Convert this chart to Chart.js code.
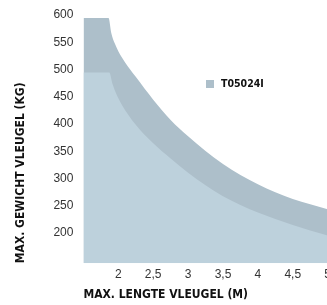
<!DOCTYPE html>
<html>
<head>
<meta charset="utf-8">
<script src="https://cdn.jsdelivr.net/npm/chart.js@4/dist/chart.umd.min.js"></script>
<style>
  html, body { margin: 0; padding: 0; background: #fff; overflow: hidden; }
  #wrap { position: relative; width: 327px; height: 305px; overflow: hidden; }
  #legend { position: absolute; left: 206px; top: 77px; font: bold 10.5px "DejaVu Sans Condensed", sans-serif; color: #111; }
  #legend span.box { display: inline-block; width: 8px; height: 8px; margin-right: 7px; vertical-align: -1px; }
</style>
</head>
<body>
<div id="wrap">
  <canvas id="chart" width="335" height="305"></canvas>
  <div id="legend"></div>
</div>
<script>
// lengte vleugel (m) and gewicht (kg)
const upperX = [1.5, 1.86, 1.9, 1.95, 2.0, 2.1, 2.25, 2.5, 2.75, 3.0, 3.25, 3.5, 3.75, 4.0, 4.25, 4.5, 4.75, 5.0];
const upperY = [600, 600, 572, 553, 539, 518, 492, 450, 413, 383, 356, 332, 312, 295, 280, 268, 258, 249];
const lowerX = [1.5, 1.87, 1.92, 1.97, 2.05, 2.25, 2.5, 2.75, 3.0, 3.25, 3.5, 3.75, 4.0, 4.25, 4.5, 4.75, 5.0];
const lowerY = [500, 500, 478, 461, 441, 404, 370, 342, 316, 293, 273, 257, 243, 231, 220, 210, 201];
const seriesName = "T05024I";
const xTicks = [1.5, 2, 2.5, 3, 3.5, 4, 4.5, 5];
const yTicks = [150, 200, 250, 300, 350, 400, 450, 500, 550, 600];

const darkColor = "#adbfca";
const lightColor = "#bdd1dc";
const tickFont = { family: "'Liberation Sans', Arial, sans-serif", size: 12 };
const titleFont = { family: "'DejaVu Sans Condensed', sans-serif", size: 12, weight: "bold" };

const toPoints = (xs, ys) => xs.map((x, i) => ({ x, y: ys[i] }));

new Chart(document.getElementById("chart"), {
  type: "line",
  data: {
    datasets: [{
      label: "lower",
      data: toPoints(lowerX, lowerY),
      backgroundColor: lightColor,
      borderWidth: 0,
      pointRadius: 0,
      fill: "start",
      cubicInterpolationMode: "monotone",
      order: 1
    }, {
      label: seriesName,
      data: toPoints(upperX, upperY),
      backgroundColor: darkColor,
      borderWidth: 0,
      pointRadius: 0,
      fill: "start",
      cubicInterpolationMode: "monotone",
      order: 2
    }]
  },
  options: {
    responsive: false,
    animation: false,
    layout: { padding: { left: 14, top: 18, right: 0, bottom: 3 } },
    plugins: { legend: { display: false }, tooltip: { enabled: false } },
    scales: {
      x: {
        type: "linear",
        min: 1.5,
        max: 5,
        afterBuildTicks: axis => { axis.ticks = xTicks.map(v => ({ value: v })); },
        grid: { display: false, drawTicks: false },
        border: { display: false },
        ticks: {
          color: "#333",
          font: tickFont,
          padding: 4,
          maxRotation: 0,
          autoSkip: false,
          callback: v => v === 1.5 ? "" : String(v).replace(".", ",")
        },
        title: {
          display: true,
          text: "MAX. LENGTE VLEUGEL (M)",
          align: "start",
          color: "#111",
          font: titleFont,
          padding: { top: 2, bottom: 0 }
        }
      },
      y: {
        min: 150,
        max: 600,
        afterBuildTicks: axis => { axis.ticks = yTicks.map(v => ({ value: v })); },
        grid: { display: false, drawTicks: false },
        border: { display: false },
        ticks: {
          color: "#333",
          font: tickFont,
          padding: 10,
          labelOffset: -3,
          autoSkip: false,
          callback: v => v === 150 ? "" : v
        },
        title: {
          display: true,
          text: "MAX. GEWICHT VLEUGEL (KG)",
          align: "start",
          color: "#111",
          font: titleFont,
          padding: { top: 0, bottom: 15 }
        }
      }
    }
  }
});

document.getElementById("legend").innerHTML =
  `<span class="box" style="background:${darkColor}"></span>${seriesName}`;
</script>
</body>
</html>
